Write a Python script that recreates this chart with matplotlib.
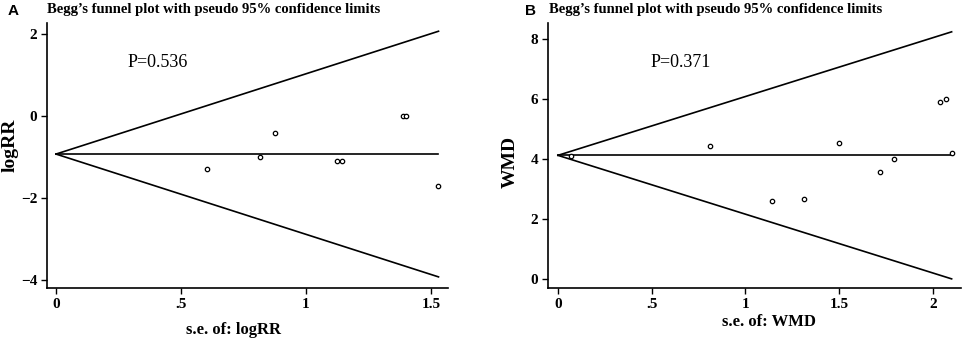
import numpy as np
import matplotlib
matplotlib.use("Agg")
import matplotlib.pyplot as plt

# Panel A data (logRR)
se_a = [0.604, 0.816, 0.876, 1.125, 1.144, 1.39, 1.40, 1.53]
val_a = [-1.29, -1.00, -0.41, -1.10, -1.10, 0.0, 0.0, -1.71]
pooled_a = -0.93
p_a = "P=0.536"

# Panel B data (WMD)
se_b = [0.07, 0.81, 1.14, 1.31, 1.50, 1.72, 1.79, 2.04, 2.07, 2.10]
val_b = [4.10, 4.43, 2.60, 2.67, 4.53, 3.57, 4.00, 5.90, 6.00, 4.20]
pooled_b = 4.12
p_b = "P=0.371"

title = "Begg\u2019s funnel plot with pseudo 95% confidence limits"
xticks_a = [0, 0.5, 1, 1.5]
xticklabels_a = ["0", ".5", "1", "1.5"]
yticks_a = [-4, -2, 0, 2]
xticks_b = [0, 0.5, 1, 1.5, 2]
xticklabels_b = ["0", ".5", "1", "1.5", "2"]
yticks_b = [0, 2, 4, 6, 8]

W, H = 964, 340
fig = plt.figure(figsize=(W / 100, H / 100), dpi=100)
serif = "Liberation Serif"


def make_ax(l, r, t, b):
    return fig.add_axes([l / W, 1 - b / H, (r - l) / W, (b - t) / H])


def draw(ax, se, val, pooled, ptxt, xticks, xtl, yticks, xlim, ylim, ylabel, xlabel,
         ptx, pty, xlab_x, xlab_y, ylab_x, ylab_y):
    smax = max(se)
    s = np.array([0, smax])
    ax.plot(s, [pooled, pooled], color="black", lw=1.2)
    ax.plot(s, pooled + 1.96 * s, color="black", lw=1.2)
    ax.plot(s, pooled - 1.96 * s, color="black", lw=1.2)
    ax.scatter(se, val, s=10, facecolors="white", edgecolors="black", linewidths=0.9, zorder=3)
    ax.set_xlim(*xlim)
    ax.set_ylim(*ylim)
    ax.set_xticks(xticks)
    ax.set_xticklabels(xtl)
    ax.set_yticks(yticks)
    ax.set_yticklabels([str(v).replace("-", "\u2212") for v in yticks])
    for sp in ["top", "right"]:
        ax.spines[sp].set_visible(False)
    for sp in ["left", "bottom"]:
        ax.spines[sp].set_linewidth(1.2)
    ax.tick_params(direction="out", length=4, width=1.0, pad=3)
    for lab in ax.get_xticklabels() + ax.get_yticklabels():
        lab.set_fontfamily(serif)
        lab.set_fontweight("bold")
        lab.set_fontsize(11)
    ax.text(ptx, pty, ptxt, transform=ax.transAxes, fontfamily=serif, fontsize=13, va="center", ha="left")
    ax.set_xlabel(xlabel, fontfamily=serif, fontweight="bold", fontsize=12)
    ax.set_ylabel(ylabel, fontfamily=serif, fontweight="bold", fontsize=14)
    ax.xaxis.set_label_coords(xlab_x, xlab_y)
    ax.yaxis.set_label_coords(ylab_x, ylab_y)


axA = make_ax(47, 448, 23, 288)
draw(axA, se_a, val_a, pooled_a, p_a, xticks_a, xticklabels_a, yticks_a,
     (-0.036, 1.568), (-4.2, 2.27), "logRR", "s.e. of: logRR",
     0.202, 0.85, 0.465, -0.128, -0.072, 0.54)

axB = make_ax(548, 961, 23, 288)
draw(axB, se_b, val_b, pooled_b, p_b, xticks_b, xticklabels_b, yticks_b,
     (-0.053, 2.15), (-0.3, 8.53), "WMD", "s.e. of: WMD",
     0.249, 0.85, 0.535, -0.10, -0.07, 0.475)

fig.text(47 / W, 1 - 10 / H, title, fontfamily=serif, fontweight="bold", fontsize=10.5, va="center", ha="left")
fig.text(549 / W, 1 - 10 / H, title, fontfamily=serif, fontweight="bold", fontsize=10.5, va="center", ha="left")
fig.text(8 / W, 1 - 11 / H, "A", fontfamily="Liberation Sans", fontweight="bold", fontsize=11, va="center", ha="left")
fig.text(525 / W, 1 - 11 / H, "B", fontfamily="Liberation Sans", fontweight="bold", fontsize=11, va="center", ha="left")

fig.savefig("out.png", dpi=100)
